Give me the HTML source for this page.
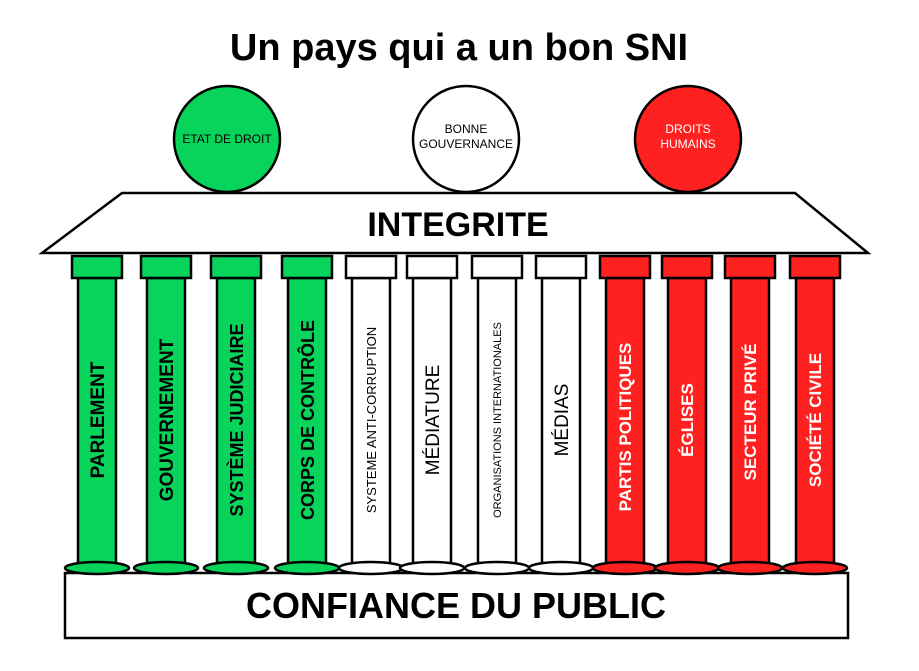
<!DOCTYPE html>
<html><head><meta charset="utf-8"><style>body{margin:0;background:#fff}</style></head><body>
<svg width="919" height="666" xmlns="http://www.w3.org/2000/svg" font-family="Liberation Sans, sans-serif">
<text x="459" y="60" text-anchor="middle" font-size="38" font-weight="bold">Un pays qui a un bon SNI</text>
<g stroke="#000" stroke-width="2.5">
<circle cx="227" cy="139" r="53" fill="#08d35a"/>
<circle cx="466" cy="139" r="53" fill="#fff"/>
<circle cx="688" cy="139" r="53" fill="#ff2020"/>
<polygon points="122,193 795,193 868,253 42,253" fill="#fff"/>
<rect x="65" y="573" width="783" height="65" fill="#fff"/>
</g>
<g font-size="12" text-anchor="middle">
<text x="227" y="143">ETAT DE DROIT</text>
<text x="466" y="133">BONNE</text><text x="466" y="148">GOUVERNANCE</text>
<text x="688" y="133" fill="#fff">DROITS</text><text x="688" y="148" fill="#fff">HUMAINS</text>
</g>
<text x="458" y="236" text-anchor="middle" font-size="34" font-weight="bold">INTEGRITE</text>
<text x="456" y="618" text-anchor="middle" font-size="36" font-weight="bold">CONFIANCE DU PUBLIC</text>
<g stroke="#000" stroke-width="2.5">
<g fill="#08d35a">
<rect x="78" y="278" width="38" height="287"/><rect x="72" y="256" width="50" height="22"/><ellipse cx="97" cy="568" rx="32" ry="6"/>
<rect x="147" y="278" width="38" height="287"/><rect x="141" y="256" width="50" height="22"/><ellipse cx="166" cy="568" rx="32" ry="6"/>
<rect x="217" y="278" width="38" height="287"/><rect x="211" y="256" width="50" height="22"/><ellipse cx="236" cy="568" rx="32" ry="6"/>
<rect x="288" y="278" width="38" height="287"/><rect x="282" y="256" width="50" height="22"/><ellipse cx="307" cy="568" rx="32" ry="6"/>
</g>
<g fill="#fff">
<rect x="352" y="278" width="38" height="287"/><rect x="346" y="256" width="50" height="22"/><ellipse cx="371" cy="568" rx="32" ry="6"/>
<rect x="413" y="278" width="38" height="287"/><rect x="407" y="256" width="50" height="22"/><ellipse cx="432" cy="568" rx="32" ry="6"/>
<rect x="478" y="278" width="38" height="287"/><rect x="472" y="256" width="50" height="22"/><ellipse cx="497" cy="568" rx="32" ry="6"/>
<rect x="542" y="278" width="38" height="287"/><rect x="536" y="256" width="50" height="22"/><ellipse cx="561" cy="568" rx="32" ry="6"/>
</g>
<g fill="#ff2020">
<rect x="606" y="278" width="38" height="287"/><rect x="600" y="256" width="50" height="22"/><ellipse cx="625" cy="568" rx="32" ry="6"/>
<rect x="668" y="278" width="38" height="287"/><rect x="662" y="256" width="50" height="22"/><ellipse cx="687" cy="568" rx="32" ry="6"/>
<rect x="731" y="278" width="38" height="287"/><rect x="725" y="256" width="50" height="22"/><ellipse cx="750" cy="568" rx="32" ry="6"/>
<rect x="796" y="278" width="38" height="287"/><rect x="790" y="256" width="50" height="22"/><ellipse cx="815" cy="568" rx="32" ry="6"/>
</g>
</g>
<g text-anchor="middle" font-weight="bold" font-size="19">
<text transform="translate(104,420) rotate(-90)">PARLEMENT</text>
<text transform="translate(173,420) rotate(-90)">GOUVERNEMENT</text>
<text transform="translate(243,420) rotate(-90)" font-size="18">SYSTÈME JUDICIAIRE</text>
<text transform="translate(314,420) rotate(-90)" font-size="18">CORPS DE CONTRÔLE</text>
<text transform="translate(376,420) rotate(-90)" font-size="13" font-weight="normal">SYSTEME ANTI-CORRUPTION</text>
<text transform="translate(439,420) rotate(-90)" font-weight="normal">MÉDIATURE</text>
<text transform="translate(501,420) rotate(-90)" font-size="11" font-weight="normal">ORGANISATIONS INTERNATIONALES</text>
<text transform="translate(568,420) rotate(-90)" font-weight="normal">MÉDIAS</text>
<g fill="#fff" font-size="17">
<text transform="translate(631,427) rotate(-90)">PARTIS POLITIQUES</text>
<text transform="translate(693,420) rotate(-90)">ÉGLISES</text>
<text transform="translate(756,412) rotate(-90)">SECTEUR PRIVÉ</text>
<text transform="translate(821,420) rotate(-90)">SOCIÉTÉ CIVILE</text>
</g>
</g>
</svg>
</body></html>
